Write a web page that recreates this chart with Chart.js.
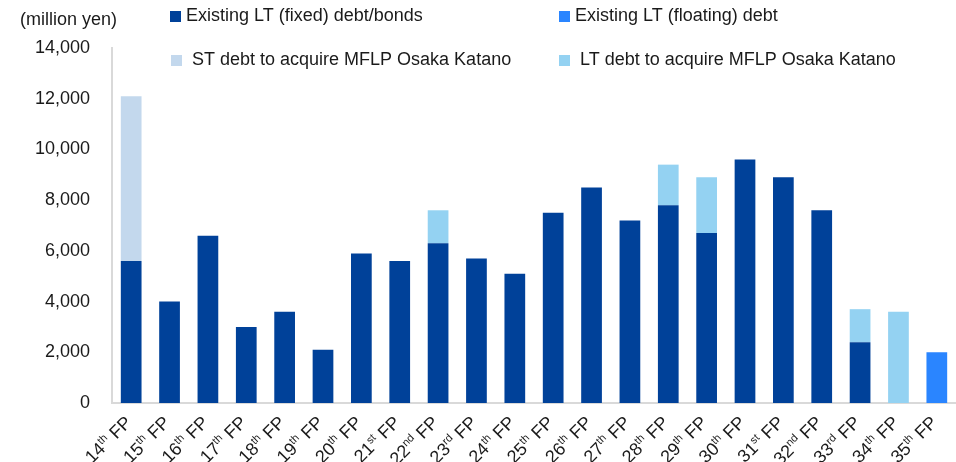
<!DOCTYPE html>
<html>
<head>
<meta charset="utf-8">
<script src="https://cdn.jsdelivr.net/npm/chart.js@4.4.1/dist/chart.umd.min.js"></script>
<style>
  body { margin: 0; background: #fff; }
  #wrap { width: 956px; height: 462px; }
</style>
</head>
<body>
<div id="wrap"><canvas id="debtChart" width="956" height="462"></canvas></div>
<script>
// periods (x axis)
const periods = ['14th FP', '15th FP', '16th FP', '17th FP', '18th FP', '19th FP', '20th FP', '21st FP',
    '22nd FP', '23rd FP', '24th FP', '25th FP', '26th FP', '27th FP', '28th FP', '29th FP', '30th FP',
    '31st FP', '32nd FP', '33rd FP', '34th FP', '35th FP'];

// million yen
const fixedDebt = [5600, 4000, 6600, 3000, 3600, 2100, 5900, 5600, 6300, 5700, 5100, 7500, 8500, 7200,
    7800, 6700, 9600, 8900, 7600, 2400, null, null];
const floatingDebt = [null, null, null, null, null, null, null, null, null, null, null, null, null, null,
    null, null, null, null, null, null, null, 2000];
const stKatano = [6500, null, null, null, null, null, null, null, null, null, null, null, null, null,
    null, null, null, null, null, null, null, null];
const ltKatano = [null, null, null, null, null, null, null, null, 1300, null, null, null, null, null,
    1600, 2200, null, null, null, 1300, 3600, null];

const yTicks = [0, 2000, 4000, 6000, 8000, 10000, 12000, 14000];

const fontFamily = '"Liberation Sans", Arial, sans-serif';
const textColor = '#1a1a1a';

// legend spots (box x, text x, y centre) in dataset order
const legendSpots = [
    { box: 170, text: 186, y: 16 },
    { box: 559, text: 575, y: 16 },
    { box: 171, text: 192, y: 60 },
    { box: 559, text: 580, y: 60 }
];

const extras = {
    id: 'extras',
    afterDraw(chart) {
        const ctx = chart.ctx;
        const xScale = chart.scales.x;
        const bottom = chart.chartArea.bottom;
        ctx.save();
        ctx.textBaseline = 'middle';
        ctx.textAlign = 'left';
        ctx.font = '18px ' + fontFamily;
        ctx.fillStyle = textColor;
        ctx.fillText('(million yen)', 20, 20);

        chart.data.datasets.forEach((ds, i) => {
            const s = legendSpots[i];
            ctx.fillStyle = ds.backgroundColor;
            ctx.fillRect(s.box, s.y - 5, 11, 11);
            ctx.fillStyle = textColor;
            ctx.fillText(ds.label, s.text, s.y);
        });

        // rotated x labels with superscript ordinals
        chart.data.labels.forEach((lab, i) => {
            const m = lab.match(/^(\d+)(\D+?) (.+)$/);
            const cx = xScale.getPixelForValue(i);
            ctx.save();
            ctx.translate(cx - 2, bottom + 17);
            ctx.rotate(-Math.PI / 4);
            ctx.font = '18px ' + fontFamily;
            const wNum = ctx.measureText(m[1]).width;
            const wRest = ctx.measureText(' ' + m[3]).width;
            ctx.font = '11px ' + fontFamily;
            const wSuf = ctx.measureText(m[2]).width;
            let pos = -(wNum + wSuf + wRest);
            ctx.fillStyle = textColor;
            ctx.font = '18px ' + fontFamily;
            ctx.fillText(m[1], pos, 0);
            pos += wNum;
            ctx.font = '11px ' + fontFamily;
            ctx.fillText(m[2], pos, -5);
            pos += wSuf;
            ctx.font = '18px ' + fontFamily;
            ctx.fillText(' ' + m[3], pos, 0);
            ctx.restore();
        });
        ctx.restore();
    }
};

const chart = new Chart(document.getElementById('debtChart').getContext('2d'), {
    type: 'bar',
    data: {
        labels: periods,
        datasets: [
            { label: 'Existing LT (fixed) debt/bonds', data: fixedDebt, backgroundColor: '#004199' },
            { label: 'Existing LT (floating) debt', data: floatingDebt, backgroundColor: '#2a85ff' },
            { label: 'ST debt to acquire MFLP Osaka Katano', data: stKatano, backgroundColor: '#c3d8ed' },
            { label: 'LT debt to acquire MFLP Osaka Katano', data: ltKatano, backgroundColor: '#94d2f2' }
        ]
    },
    options: {
        responsive: false,
        animation: false,
        barPercentage: 0.54,
        categoryPercentage: 1.0,
        layout: { padding: { top: 48, left: 0, right: 0, bottom: 0 } },
        plugins: {
            legend: { display: false },
            tooltip: { enabled: false }
        },
        scales: {
            x: {
                stacked: true,
                grid: { display: false, drawTicks: false },
                border: { display: true, color: '#d9d9d9', width: 2 },
                ticks: { display: false },
                afterFit(scale) { scale.height = 59; }
            },
            y: {
                stacked: true,
                min: yTicks[0],
                max: yTicks[yTicks.length - 1],
                grid: { display: false, drawTicks: false },
                border: { display: true, color: '#d9d9d9', width: 2 },
                afterBuildTicks(scale) { scale.ticks = yTicks.map(v => ({ value: v })); },
                afterFit(scale) { scale.width = 112; },
                ticks: {
                    padding: 22,
                    color: textColor,
                    font: { family: fontFamily, size: 18 },
                    callback: v => v.toLocaleString('en-US')
                }
            }
        }
    },
    plugins: [extras]
});
</script>
</body>
</html>
